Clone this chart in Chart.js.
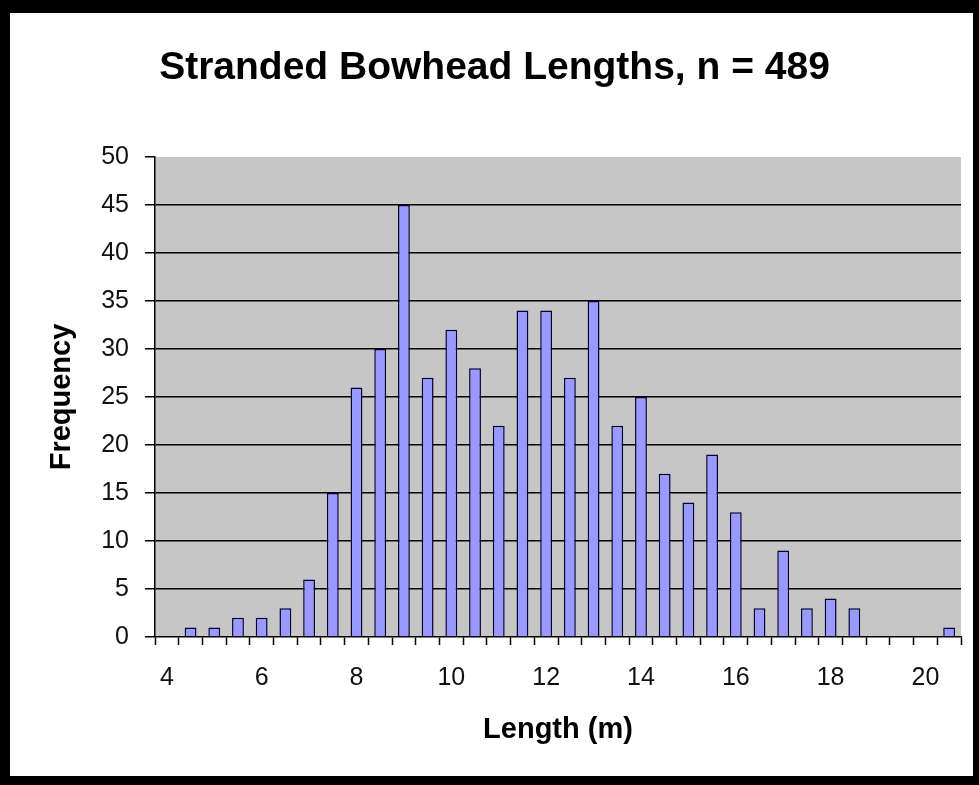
<!DOCTYPE html>
<html>
<head>
<meta charset="utf-8">
<script src="https://cdn.jsdelivr.net/npm/chart.js@4/dist/chart.umd.min.js"></script>
<style>
  html, body { margin: 0; padding: 0; background: #fff; }
  #wrap { width: 979px; height: 785px; position: relative; }
</style>
</head>
<body>
<div id="wrap"><canvas id="c" width="979" height="785"></canvas></div>
<script>
// ---- data ----
const lengths = ['4','4.5','5','5.5','6','6.5','7','7.5','8','8.5','9','9.5','10','10.5','11','11.5','12','12.5','13','13.5','14','14.5','15','15.5','16','16.5','17','17.5','18','18.5','19','19.5','20','20.5'];
const frequency = [0,1,1,2,2,3,6,15,26,30,45,27,32,28,22,34,34,27,35,22,25,17,14,19,13,3,9,3,4,3,0,0,0,1];
const xTickLabels = ['4','6','8','10','12','14','16','18','20'];
const titleText = 'Stranded Bowhead Lengths, n = 489';
const xTitle = 'Length (m)';
const yTitle = 'Frequency';

const FONT = "'Liberation Sans', Arial, Helvetica, sans-serif";

const frame = {
  id: 'frame',
  beforeDraw(chart) {
    const ctx = chart.ctx;
    const a = chart.chartArea;
    ctx.save();
    ctx.fillStyle = '#ffffff';
    ctx.fillRect(0, 0, chart.width, chart.height);
    ctx.fillStyle = '#c6c6c6';
    ctx.fillRect(a.left, a.top, a.right - a.left, a.bottom - a.top);
    ctx.restore();
  },
  afterDraw(chart) {
    const ctx = chart.ctx;
    ctx.save();
    ctx.fillStyle = '#000';
    ctx.fillRect(0, 0, chart.width, 13);
    ctx.fillRect(0, 0, 10, chart.height);
    ctx.fillRect(chart.width - 6, 0, 6, chart.height);
    ctx.fillRect(0, chart.height - 9, chart.width, 9);
    ctx.restore();
  }
};

new Chart(document.getElementById('c'), {
  type: 'bar',
  data: {
    labels: lengths,
    datasets: [{
      data: frequency,
      backgroundColor: '#9999ff',
      borderColor: '#000033',
      borderWidth: 1.5,
      barPercentage: 0.5,
      categoryPercentage: 1.0
    }]
  },
  options: {
    responsive: false,
    animation: false,
    devicePixelRatio: 1,
    layout: { padding: { left: 10, right: 0, top: 0, bottom: 9 } },
    plugins: {
      legend: { display: false },
      tooltip: { enabled: false },
      title: {
        display: true,
        text: titleText,
        color: '#000',
        font: { family: FONT, size: 39, weight: 'bold' },
        padding: { top: 44.6, bottom: 65.6 }
      }
    },
    scales: {
      x: {
        type: 'category',
        offset: true,
        grid: {
          offset: true,
          drawOnChartArea: false,
          drawTicks: true,
          tickLength: 8,
          tickColor: '#000',
          tickWidth: 1.5
        },
        border: { display: true, color: '#000', width: 1.5 },
        ticks: {
          autoSkip: false,
          maxRotation: 0,
          minRotation: 0,
          padding: 18,
          color: '#111',
          font: { family: FONT, size: 25 },
          callback: function (v, i) {
            const l = this.getLabelForValue(v);
            return xTickLabels.includes(l) ? l : '';
          }
        },
        title: {
          display: true,
          text: xTitle,
          color: '#000',
          font: { family: FONT, size: 29, weight: 'bold' },
          padding: { top: 0, bottom: 28.6 }
        },
        afterFit(s) { s.height = 139; }
      },
      y: {
        position: 'left',
        min: 0,
        max: 50,
        ticks: {
          stepSize: 5,
          padding: 16,
          color: '#111',
          font: { family: FONT, size: 25 }
        },
        grid: {
          color: (c) => (c.tick && c.tick.value > 0 && c.tick.value < 50) ? '#000' : 'rgba(0,0,0,0)',
          lineWidth: 1.5,
          drawTicks: true,
          tickLength: 10,
          tickColor: '#000',
          tickWidth: 1.5
        },
        border: { display: true, color: '#000', width: 1.5 },
        title: {
          display: true,
          text: yTitle,
          color: '#000',
          font: { family: FONT, size: 29, weight: 'bold' },
          padding: { top: 34.6, bottom: 0 }
        },
        afterFit(s) { s.width = 145; }
      },
      y2: {
        position: 'right',
        min: 0,
        max: 1,
        display: true,
        grid: { display: false, drawOnChartArea: false },
        border: { display: false },
        ticks: { display: false },
        afterFit(s) { s.width = 18; }
      }
    }
  },
  plugins: [frame]
});
</script>
</body>
</html>
